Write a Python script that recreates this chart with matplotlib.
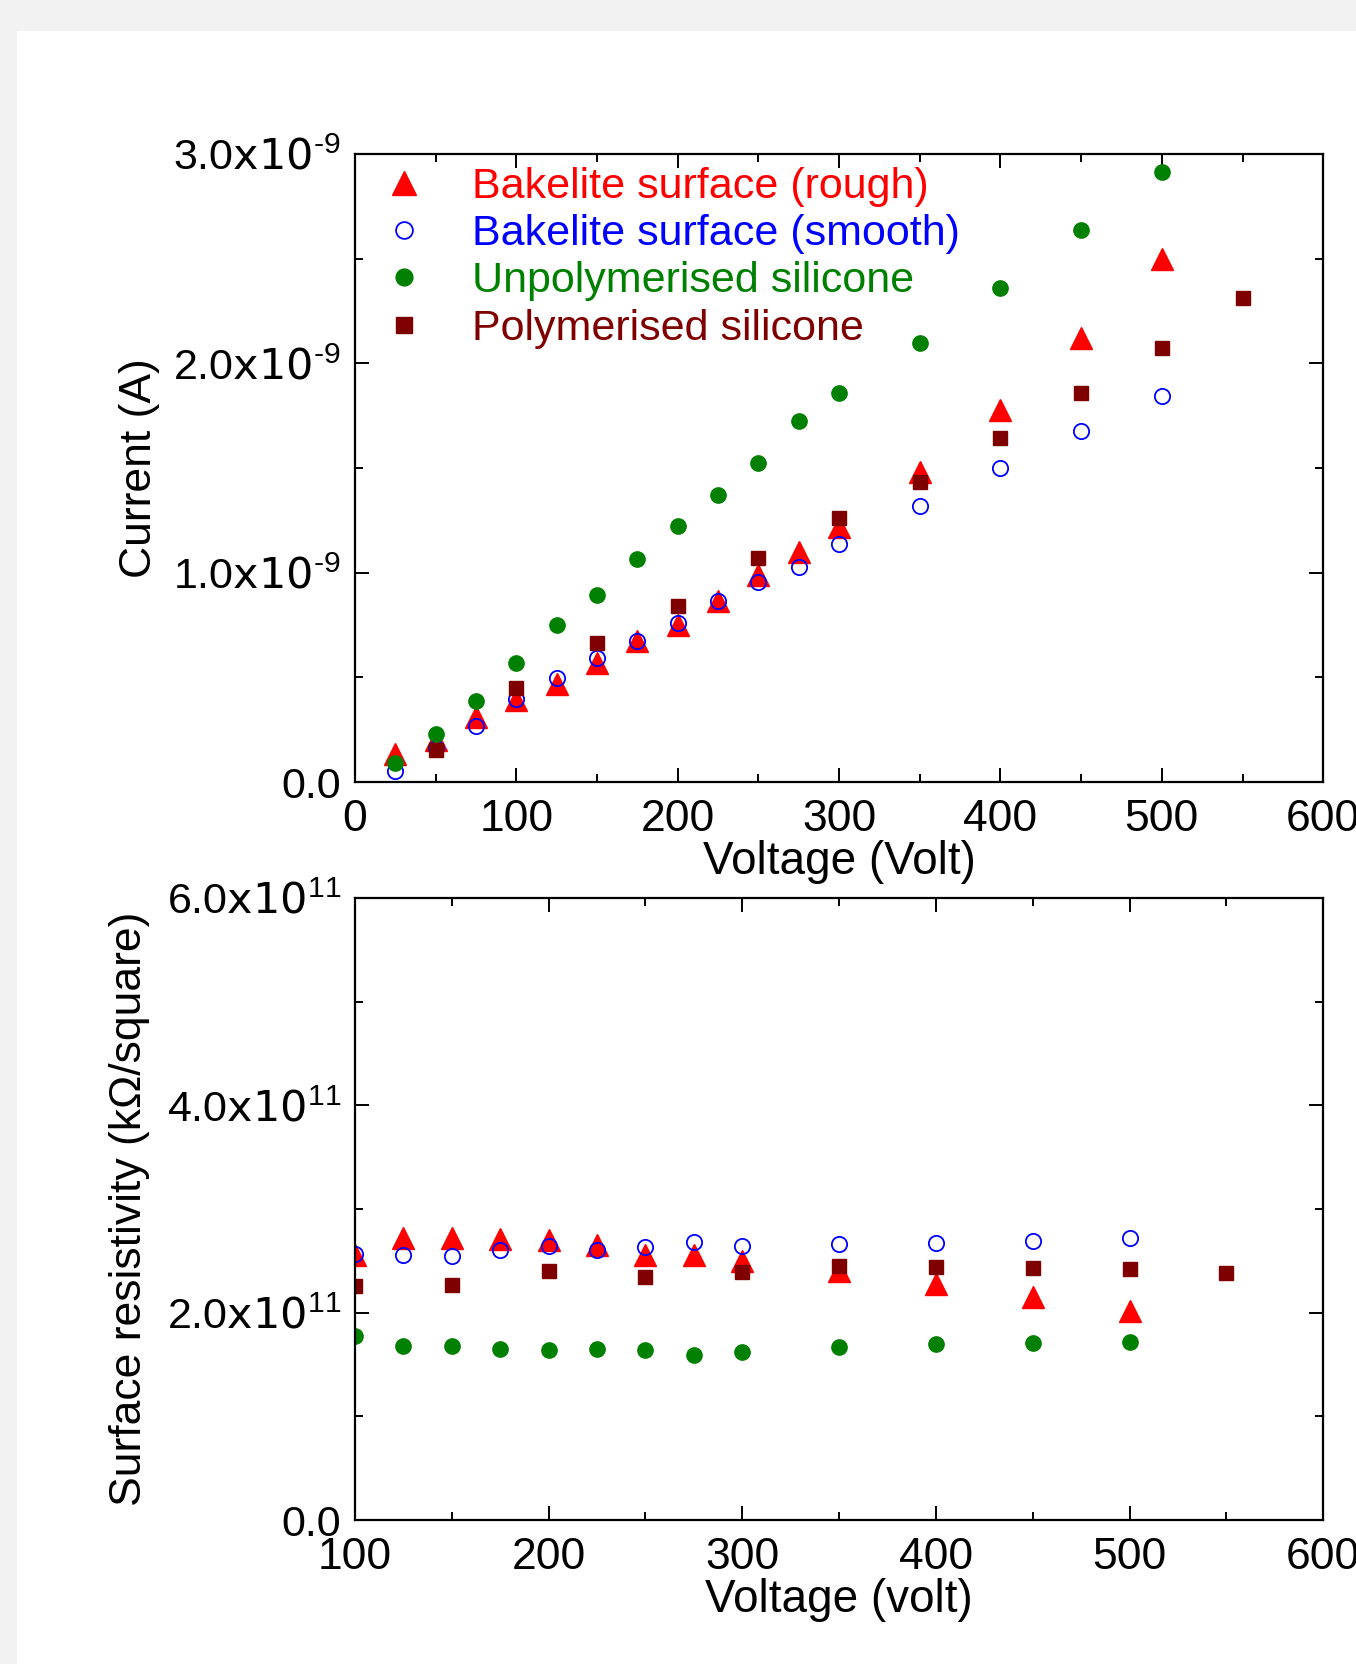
import numpy as np
import matplotlib
matplotlib.use('Agg')
import matplotlib.pyplot as plt
from matplotlib.ticker import FuncFormatter, MultipleLocator
from matplotlib.patches import Rectangle

plt.rcParams['font.family'] = ['Liberation Sans', 'DejaVu Sans']
plt.rcParams['mathtext.default'] = 'regular'
plt.rcParams['axes.unicode_minus'] = False

# --- top panel: current vs voltage ---
v_rough = [25, 50, 75, 100, 125, 150, 175, 200, 225, 250, 275, 300, 350, 400, 450, 500]
i_rough = [0.134, 0.203, 0.31, 0.39, 0.47, 0.569, 0.672, 0.751, 0.866, 0.988, 1.097,
           1.219, 1.482, 1.779, 2.119, 2.50]
v_smooth = [25, 50, 75, 100, 125, 150, 175, 200, 225, 250, 275, 300, 350, 400, 450, 500]
i_smooth = [0.053, 0.164, 0.267, 0.395, 0.496, 0.593, 0.672, 0.761, 0.866, 0.955, 1.028,
            1.138, 1.320, 1.502, 1.676, 1.842]
v_unpoly = [25, 50, 75, 100, 125, 150, 175, 200, 225, 250, 275, 300, 350, 400, 450, 500]
i_unpoly = [0.093, 0.231, 0.385, 0.567, 0.749, 0.895, 1.065, 1.223, 1.370, 1.526, 1.725,
            1.856, 2.095, 2.360, 2.638, 2.915]
v_poly = [50, 100, 150, 200, 250, 300, 350, 400, 450, 500, 550]
i_poly = [0.152, 0.449, 0.666, 0.840, 1.071, 1.261, 1.433, 1.644, 1.856, 2.071, 2.312]

# --- bottom panel: surface resistivity vs voltage ---
rv_rough = [100, 125, 150, 175, 200, 225, 250, 275, 300, 350, 400, 450, 500]
r_rough = [2.56, 2.72, 2.725, 2.709, 2.70, 2.655, 2.56, 2.553, 2.495, 2.40, 2.28, 2.15, 2.02]
rv_smooth = [100, 125, 150, 175, 200, 225, 250, 275, 300, 350, 400, 450, 500]
r_smooth = [2.565, 2.553, 2.543, 2.607, 2.645, 2.607, 2.633, 2.684, 2.645, 2.661, 2.671,
            2.693, 2.725]
rv_unpoly = [100, 125, 150, 175, 200, 225, 250, 275, 300, 350, 400, 450, 500]
r_unpoly = [1.776, 1.68, 1.68, 1.649, 1.642, 1.649, 1.642, 1.594, 1.617, 1.674, 1.696,
            1.706, 1.716]
rv_poly = [100, 150, 200, 250, 300, 350, 400, 450, 500, 550]
r_poly = [2.256, 2.268, 2.40, 2.345, 2.393, 2.447, 2.441, 2.431, 2.422, 2.383]

labels = ['Bakelite surface (rough)', 'Bakelite surface (smooth)',
          'Unpolymerised silicone', 'Polymerised silicone']
colors = ['#ff0000', '#0000ff', '#008000', '#7f0000']


def sci_fmt(exp):
    def f(val, pos):
        if val == 0:
            return '0.0'
        sup = str(exp).replace('-', '\u2010')
        return r'$%.1f\mathrm{x10}^{%s}$' % (val / 10.0 ** exp, sup)
    return f


def style_axis(ax):
    for s in ax.spines.values():
        s.set_linewidth(1.6)
    ax.tick_params(which='both', direction='in', top=True, right=True, width=1.4)
    ax.tick_params(which='major', length=10, labelsize=32, pad=12)
    ax.tick_params(which='minor', length=6)
    ax.tick_params(axis='y', labelsize=31, pad=10)


def draw(ax, data, scale):
    (x1, y1), (x2, y2), (x3, y3), (x4, y4) = data
    ax.plot(x1, np.array(y1) * scale, '^', color=colors[0], ms=16, ls='none', label=labels[0])
    ax.plot(x2, np.array(y2) * scale, 'o', mfc='none', mec=colors[1], mew=1.3, ms=11,
            ls='none', label=labels[1])
    ax.plot(x3, np.array(y3) * scale, 'o', color=colors[2], ms=11, ls='none', label=labels[2])
    ax.plot(x4, np.array(y4) * scale, 's', color=colors[3], ms=10, ls='none', label=labels[3])


fig = plt.figure(figsize=(13.56, 16.64), dpi=100, facecolor='#f2f2f2')
fig.patches.append(Rectangle((0.0125, 0), 1.0, 0.9814, transform=fig.transFigure,
                             facecolor='white', edgecolor='none', zorder=-10))

ax1 = fig.add_axes([0.2618, 0.530, 0.714, 0.3775])
draw(ax1, [(v_rough, i_rough), (v_smooth, i_smooth), (v_unpoly, i_unpoly), (v_poly, i_poly)], 1e-9)
ax1.set_xlim(0, 600)
ax1.set_ylim(0, 3e-9)
ax1.xaxis.set_major_locator(MultipleLocator(100))
ax1.xaxis.set_minor_locator(MultipleLocator(50))
ax1.yaxis.set_major_locator(MultipleLocator(1e-9))
ax1.yaxis.set_minor_locator(MultipleLocator(0.5e-9))
ax1.yaxis.set_major_formatter(FuncFormatter(sci_fmt(-9)))
style_axis(ax1)
ax1.set_xlabel('Voltage (Volt)', fontsize=33, labelpad=0)
ax1.set_ylabel('Current (A)', fontsize=32, labelpad=10)
ax1.legend(loc='upper left', bbox_to_anchor=(0.015, 1.0), frameon=False, fontsize=31,
           handlelength=1.0, handletextpad=1.08, labelspacing=0.17, borderpad=0.3,
           borderaxespad=0.0, markerscale=1.1, labelcolor=colors)

ax2 = fig.add_axes([0.2618, 0.0865, 0.714, 0.3738])
draw(ax2, [(rv_rough, r_rough), (rv_smooth, r_smooth), (rv_unpoly, r_unpoly), (rv_poly, r_poly)], 1e11)
ax2.set_xlim(100, 600)
ax2.set_ylim(0, 6e11)
ax2.xaxis.set_major_locator(MultipleLocator(100))
ax2.xaxis.set_minor_locator(MultipleLocator(50))
ax2.yaxis.set_major_locator(MultipleLocator(2e11))
ax2.yaxis.set_minor_locator(MultipleLocator(1e11))
ax2.yaxis.set_major_formatter(FuncFormatter(sci_fmt(11)))
style_axis(ax2)
ax2.set_xlabel('Voltage (volt)', fontsize=33, labelpad=0)
ax2.set_ylabel('Surface resistivity (k\u03a9/square)', fontsize=32, labelpad=12)

fig.savefig('out.png', dpi=100, facecolor=fig.get_facecolor())
